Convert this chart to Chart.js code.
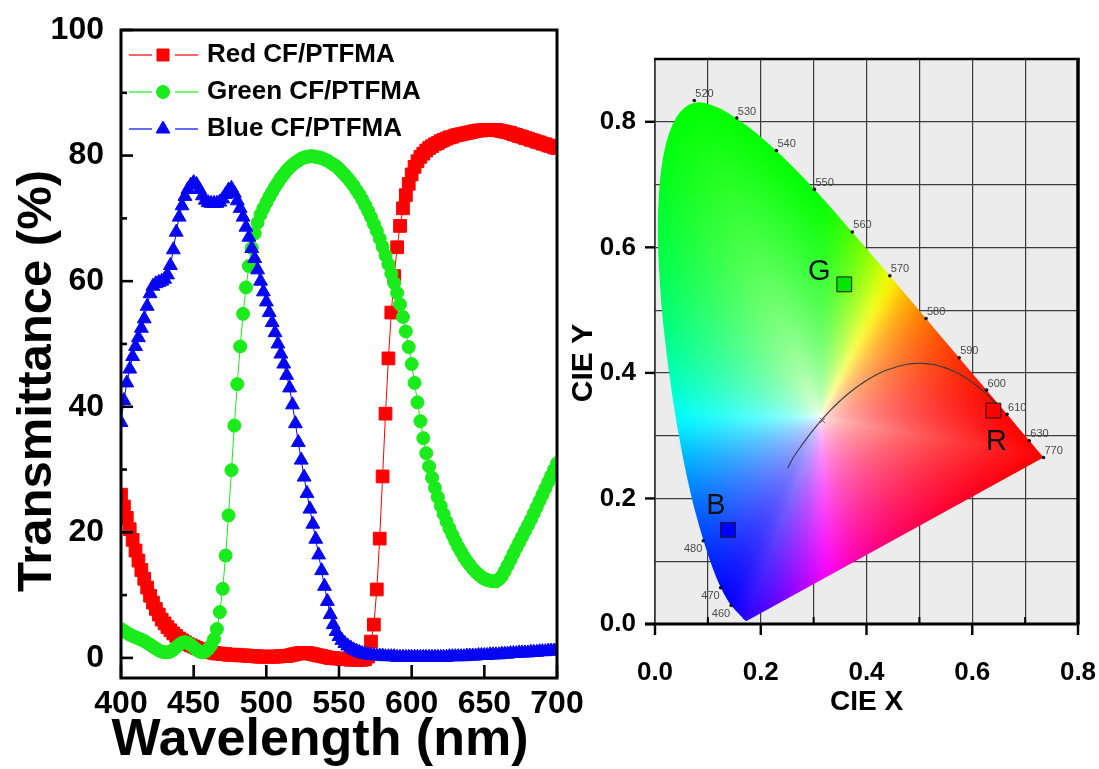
<!DOCTYPE html>
<html>
<head>
<meta charset="utf-8">
<title>Colour filter transmittance and CIE coordinates</title>
<script src="https://cdn.jsdelivr.net/npm/chart.js@4.4.1/dist/chart.umd.min.js"></script>
<style>
  html, body { margin: 0; padding: 0; background: #fff; }
  #wrap { position: relative; width: 1099px; height: 769px; overflow: hidden; }
  #wrap canvas { position: absolute; left: 0; top: 0; }
</style>
</head>
<body>
<div id="wrap">
  <canvas id="spectra" width="1099" height="769"></canvas>
  <canvas id="cie" width="1099" height="769"></canvas>
</div>
<script>
// ---------- Transmittance spectra (%), sampled every 2 nm ----------
const wavelengthNm = [
  400, 402, 404, 406, 408, 410, 412, 414, 416, 418,
  420, 422, 424, 426, 428, 430, 432, 434, 436, 438,
  440, 442, 444, 446, 448, 450, 452, 454, 456, 458,
  460, 462, 464, 466, 468, 470, 472, 474, 476, 478,
  480, 482, 484, 486, 488, 490, 492, 494, 496, 498,
  500, 502, 504, 506, 508, 510, 512, 514, 516, 518,
  520, 522, 524, 526, 528, 530, 532, 534, 536, 538,
  540, 542, 544, 546, 548, 550, 552, 554, 556, 558,
  560, 562, 564, 566, 568, 570, 572, 574, 576, 578,
  580, 582, 584, 586, 588, 590, 592, 594, 596, 598,
  600, 602, 604, 606, 608, 610, 612, 614, 616, 618,
  620, 622, 624, 626, 628, 630, 632, 634, 636, 638,
  640, 642, 644, 646, 648, 650, 652, 654, 656, 658,
  660, 662, 664, 666, 668, 670, 672, 674, 676, 678,
  680, 682, 684, 686, 688, 690, 692, 694, 696, 698,
  700
];

const redTransmittance = [
  26.0, 24.1, 22.3, 20.5, 18.8, 17.1, 15.5, 14.0, 12.6, 11.2,
  9.9, 8.8, 7.8, 6.9, 6.1, 5.5, 4.9, 4.4, 3.9, 3.5,
  3.1, 2.8, 2.5, 2.2, 2.0, 1.8, 1.6, 1.4, 1.2, 1.1,
  1.0, 0.9, 0.8, 0.7, 0.7, 0.6, 0.6, 0.5, 0.5, 0.5,
  0.5, 0.4, 0.4, 0.4, 0.3, 0.3, 0.3, 0.2, 0.2, 0.2,
  0.2, 0.2, 0.2, 0.2, 0.2, 0.3, 0.3, 0.3, 0.4, 0.5,
  0.6, 0.7, 0.8, 0.8, 0.8, 0.7, 0.6, 0.5, 0.4, 0.3,
  0.2, 0.1, 0.0, 0.0, -0.1, -0.1, -0.2, -0.2, -0.2, -0.3,
  -0.3, -0.3, -0.3, -0.3, -0.2, 0.2, 2.6, 5.3, 10.9, 19.0,
  28.9, 38.9, 47.7, 55.0, 60.8, 65.4, 68.8, 71.6, 73.7, 75.5,
  77.0, 78.2, 79.1, 79.8, 80.3, 80.8, 81.2, 81.5, 81.8, 82.0,
  82.3, 82.5, 82.7, 82.9, 83.0, 83.2, 83.3, 83.4, 83.5, 83.6,
  83.7, 83.8, 83.9, 84.0, 84.0, 84.1, 84.1, 84.1, 84.1, 84.1,
  84.0, 83.9, 83.8, 83.7, 83.6, 83.4, 83.3, 83.1, 83.0, 82.8,
  82.7, 82.5, 82.4, 82.2, 82.1, 81.9, 81.8, 81.6, 81.5, 81.3,
  81.2
];

const greenTransmittance = [
  4.6, 4.3, 4.0, 3.7, 3.5, 3.3, 3.1, 2.9, 2.7, 2.4,
  2.1, 1.8, 1.5, 1.2, 1.0, 0.9, 0.9, 1.0, 1.3, 1.7,
  2.1, 2.4, 2.5, 2.4, 2.1, 1.7, 1.3, 1.0, 0.9, 1.0,
  1.4, 2.0, 3.0, 4.6, 7.3, 11.0, 16.3, 22.7, 29.9, 37.0,
  43.6, 49.6, 54.8, 59.0, 62.4, 65.3, 67.6, 69.3, 70.6, 71.6,
  72.5, 73.4, 74.2, 75.0, 75.7, 76.4, 77.0, 77.6, 78.1, 78.5,
  78.9, 79.2, 79.5, 79.7, 79.8, 79.9, 79.9, 79.8, 79.7, 79.6,
  79.4, 79.2, 78.9, 78.6, 78.3, 77.9, 77.4, 76.9, 76.4, 75.8,
  75.2, 74.5, 73.8, 73.0, 72.1, 71.2, 70.2, 69.1, 68.0, 66.8,
  65.5, 64.1, 62.7, 61.2, 59.7, 58.1, 56.3, 54.3, 52.0, 49.5,
  46.8, 43.8, 40.7, 37.7, 35.0, 32.6, 30.5, 28.7, 27.1, 25.6,
  24.2, 22.9, 21.7, 20.6, 19.6, 18.6, 17.7, 16.9, 16.1, 15.4,
  14.8, 14.2, 13.7, 13.3, 12.9, 12.6, 12.4, 12.3, 12.2, 12.2,
  12.5, 13.0, 13.8, 14.7, 15.6, 16.6, 17.5, 18.4, 19.3, 20.2,
  21.1, 22.0, 23.0, 24.0, 25.0, 26.0, 27.0, 28.0, 29.0, 30.0,
  31.0
];

const blueTransmittance = [
  37.5, 41.0, 43.8, 46.0, 48.0, 49.6, 51.0, 52.5, 54.0, 56.0,
  58.0, 59.2, 59.6, 59.8, 60.0, 60.3, 61.0, 62.5, 65.0, 67.8,
  70.2, 72.0, 73.5, 74.6, 75.3, 75.7, 75.4, 74.6, 73.6, 72.9,
  72.5, 72.4, 72.4, 72.4, 72.6, 73.1, 73.8, 74.5, 74.8, 74.0,
  72.8, 71.6, 70.2, 68.6, 67.0, 65.2, 63.6, 61.8, 60.0, 58.3,
  56.7, 55.0, 53.4, 51.8, 50.0, 48.4, 46.8, 45.0, 43.0, 40.3,
  37.3, 34.3, 31.5, 28.8, 26.2, 23.7, 21.3, 18.9, 16.4, 13.9,
  11.4, 9.0, 6.9, 5.3, 4.2, 3.4, 2.8, 2.3, 1.9, 1.6,
  1.3, 1.1, 0.9, 0.7, 0.6, 0.5, 0.4, 0.4, 0.3, 0.3,
  0.3, 0.2, 0.2, 0.2, 0.2, 0.1, 0.1, 0.1, 0.1, 0.1,
  0.1, 0.1, 0.1, 0.1, 0.1, 0.1, 0.1, 0.1, 0.1, 0.1,
  0.1, 0.1, 0.1, 0.2, 0.2, 0.2, 0.2, 0.2, 0.2, 0.3,
  0.3, 0.3, 0.3, 0.4, 0.4, 0.4, 0.4, 0.5, 0.5, 0.5,
  0.5, 0.6, 0.6, 0.6, 0.7, 0.7, 0.7, 0.8, 0.8, 0.8,
  0.8, 0.9, 0.9, 0.9, 1.0, 1.0, 1.0, 1.1, 1.1, 1.1,
  1.2
];

const seriesLabels = ['Red CF/PTFMA', 'Green CF/PTFMA', 'Blue CF/PTFMA'];
const wavelengthTicks = [400, 450, 500, 550, 600, 650, 700];
const transmittanceTicks = [0, 10, 20, 30, 40, 50, 60, 70, 80, 90, 100];

// ---------- CIE 1931 chromaticity ----------
// spectral locus, 380-700 nm every 5 nm
const locusX = [
  0.1741, 0.1740, 0.1738, 0.1736, 0.1733, 0.1730, 0.1726, 0.1721, 0.1714, 0.1703,
  0.1689, 0.1669, 0.1644, 0.1611, 0.1566, 0.1510, 0.1440, 0.1355, 0.1241, 0.1096,
  0.0913, 0.0687, 0.0454, 0.0235, 0.0082, 0.0039, 0.0139, 0.0389, 0.0743, 0.1142,
  0.1547, 0.1929, 0.2296, 0.2658, 0.3016, 0.3373, 0.3731, 0.4087, 0.4441, 0.4788,
  0.5125, 0.5448, 0.5752, 0.6029, 0.6270, 0.6482, 0.6658, 0.6801, 0.6915, 0.7006,
  0.7079, 0.7140, 0.7190, 0.7230, 0.7260, 0.7283, 0.7300, 0.7311, 0.7320, 0.7327,
  0.7334, 0.7340, 0.7344, 0.7346, 0.7347
];
const locusY = [
  0.0050, 0.0050, 0.0049, 0.0049, 0.0048, 0.0048, 0.0048, 0.0048, 0.0051, 0.0058,
  0.0069, 0.0086, 0.0109, 0.0138, 0.0177, 0.0227, 0.0297, 0.0399, 0.0578, 0.0868,
  0.1327, 0.2007, 0.2950, 0.4127, 0.5384, 0.6548, 0.7502, 0.8120, 0.8338, 0.8262,
  0.8059, 0.7816, 0.7543, 0.7243, 0.6923, 0.6589, 0.6245, 0.5896, 0.5547, 0.5202,
  0.4866, 0.4544, 0.4242, 0.3965, 0.3725, 0.3514, 0.3340, 0.3197, 0.3083, 0.2993,
  0.2920, 0.2859, 0.2809, 0.2770, 0.2740, 0.2717, 0.2700, 0.2689, 0.2680, 0.2673,
  0.2666, 0.2660, 0.2656, 0.2654, 0.2653
];

// labelled wavelengths on the locus
const markNm = [460, 470, 480, 520, 530, 540, 550, 560, 570, 580, 590, 600, 610, 630, 770];
const markX = [0.1440, 0.1241, 0.0913, 0.0743, 0.1547, 0.2296, 0.3016, 0.3731, 0.4441, 0.5125, 0.5752, 0.6270, 0.6658, 0.7079, 0.7347];
const markY = [0.0297, 0.0578, 0.1327, 0.8338, 0.8059, 0.7543, 0.6923, 0.6245, 0.5547, 0.4866, 0.4242, 0.3725, 0.3340, 0.2920, 0.2653];

// blackbody (Planckian) locus
const planckX = [0.2510, 0.2565, 0.2637, 0.2719, 0.2807, 0.2952, 0.3135, 0.3325, 0.3451, 0.3608, 0.3805,
                 0.4053, 0.4369, 0.4685, 0.4862, 0.5056, 0.5267, 0.5492, 0.5732, 0.5985, 0.6251, 0.6528];
const planckY = [0.2480, 0.2577, 0.2680, 0.2779, 0.2884, 0.3048, 0.3237, 0.3411, 0.3516, 0.3636, 0.3768,
                 0.3907, 0.4041, 0.4123, 0.4147, 0.4152, 0.4133, 0.4080, 0.3993, 0.3858, 0.3674, 0.3444];
const whitePointX = [0.317];
const whitePointY = [0.324];

// colour coordinates of the three filters
const filterNames = ['G', 'R', 'B'];
const filterX = [0.358, 0.640, 0.138];
const filterY = [0.541, 0.340, 0.150];

const cieXTicks = [0, 0.1, 0.2, 0.3, 0.4, 0.5, 0.6, 0.7, 0.8];
const cieYTicks = [0, 0.1, 0.2, 0.3, 0.4, 0.5, 0.6, 0.7, 0.8, 0.9];

// ---------- shared helpers ----------
const FONT = '"Liberation Sans", Arial, Helvetica, sans-serif';
Chart.defaults.font.family = FONT;
Chart.defaults.color = '#000';
Chart.defaults.animation = false;

const toPoints = (xs, ys) => xs.map((v, i) => ({ x: v, y: ys[i] }));

function strokeLine(ctx, x1, y1, x2, y2, width, color) {
  ctx.save();
  ctx.beginPath();
  ctx.lineWidth = width;
  ctx.strokeStyle = color || '#000';
  ctx.moveTo(x1, y1);
  ctx.lineTo(x2, y2);
  ctx.stroke();
  ctx.restore();
}

function drawRotatedTitle(ctx, text, cx, cy, font) {
  ctx.save();
  ctx.translate(cx, cy);
  ctx.rotate(-Math.PI / 2);
  ctx.font = font;
  ctx.fillStyle = '#000';
  ctx.textAlign = 'center';
  ctx.textBaseline = 'middle';
  ctx.fillText(text, 0, 0);
  ctx.restore();
}

// invisible tick marks are used only to space the labels away from the axis
const spacer = length => ({ display: true, drawOnChartArea: false, drawTicks: true, tickLength: length, tickColor: 'rgba(0,0,0,0)', color: 'rgba(0,0,0,0)' });

// ---------- left panel: spectra ----------
const spectraStyle = [
  { color: '#ff0000', marker: 'rect', radius: 9, order: 3 },
  { color: '#1aeb1a', marker: 'circle', radius: 6.5, order: 2 },
  { color: '#0606f2', marker: 'triangle', radius: 8, order: 1 }
];
const spectraValues = [redTransmittance, greenTransmittance, blueTransmittance];

const spectraDecor = {
  id: 'spectraDecor',
  afterDraw(chart) {
    const { ctx, chartArea: a, scales: { x, y } } = chart;
    // frame
    ctx.save();
    ctx.lineWidth = 3;
    ctx.strokeStyle = '#000';
    ctx.strokeRect(a.left, a.top, a.right - a.left, a.bottom - a.top);
    ctx.restore();
    // inward tick marks
    y.ticks.forEach(t => {
      const py = y.getPixelForValue(t.value);
      const len = t.value % 20 === 0 ? 12 : 6;
      strokeLine(ctx, a.left, py, a.left + len, py, 2.6);
    });
    x.ticks.forEach(t => {
      const px = x.getPixelForValue(t.value);
      strokeLine(ctx, px, a.bottom, px, a.bottom - 13, 2.6);
    });
    // legend
    chart.data.datasets.forEach((ds, i) => {
      const cy = 55 + i * 37;
      const cx = 163;
      strokeLine(ctx, cx - 34, cy, cx - 11, cy, 1.2, ds.borderColor);
      strokeLine(ctx, cx + 12, cy, cx + 35, cy, 1.2, ds.borderColor);
      ctx.save();
      ctx.fillStyle = ds.pointBackgroundColor;
      ctx.strokeStyle = ds.pointBorderColor;
      ctx.lineWidth = 1;
      Chart.helpers.drawPoint(ctx, { pointStyle: ds.pointStyle, radius: Math.min(ds.pointRadius, 8.5), rotation: 0, borderWidth: 1 }, cx, cy);
      ctx.font = 'bold 26px ' + FONT;
      ctx.fillStyle = '#000';
      ctx.textAlign = 'left';
      ctx.textBaseline = 'middle';
      ctx.fillText(ds.label, 207, cy);
      ctx.restore();
    });
    // axis titles
    drawRotatedTitle(ctx, 'Transmittance (%)', 37, 381, 'bold 49px ' + FONT);
    ctx.save();
    ctx.font = 'bold 52px ' + FONT;
    ctx.fillStyle = '#000';
    ctx.textAlign = 'center';
    ctx.textBaseline = 'middle';
    ctx.fillText('Wavelength (nm)', 320, 741);
    ctx.restore();
  }
};

new Chart(document.getElementById('spectra'), {
  type: 'scatter',
  data: {
    datasets: seriesLabels.map((label, i) => ({
      label,
      data: toPoints(wavelengthNm, spectraValues[i]),
      showLine: true,
      borderColor: spectraStyle[i].color,
      backgroundColor: spectraStyle[i].color,
      borderWidth: 1,
      pointStyle: spectraStyle[i].marker,
      pointRadius: spectraStyle[i].radius,
      pointBackgroundColor: spectraStyle[i].color,
      pointBorderColor: spectraStyle[i].color,
      pointBorderWidth: 1,
      order: spectraStyle[i].order,
      clip: 0
    }))
  },
  options: {
    responsive: false,
    events: [],
    layout: { autoPadding: false, padding: { left: 0, top: 30, right: 542, bottom: 0 } },
    plugins: { legend: { display: false }, tooltip: { enabled: false } },
    scales: {
      x: {
        type: 'linear', min: 400, max: 700,
        afterBuildTicks: s => { s.ticks = wavelengthTicks.map(v => ({ value: v })); },
        afterFit: s => { s.height = 91; },
        grid: spacer(7),
        border: { display: false },
        ticks: { autoSkip: false, maxRotation: 0, padding: 0, color: '#000', font: { size: 32, weight: 'bold' } }
      },
      y: {
        type: 'linear', min: -3.2, max: 100,
        afterBuildTicks: s => { s.ticks = transmittanceTicks.map(v => ({ value: v })); },
        afterFit: s => { s.width = 121; },
        grid: spacer(17),
        border: { display: false },
        ticks: {
          autoSkip: false, padding: 0, color: '#000', font: { size: 32, weight: 'bold' },
          callback: v => (v % 20 === 0 ? String(v) : '')
        }
      }
    }
  },
  plugins: [spectraDecor]
});

// ---------- right panel: chromaticity diagram ----------
// saturated display colour of a chromaticity: sRGB primaries, negatives clipped
function saturatedRgb(cx, cy) {
  const X = cx / cy, Y = 1, Z = (1 - cx - cy) / cy;
  let r = Math.max(3.2406 * X - 1.5372 * Y - 0.4986 * Z, 0);
  let g = Math.max(-0.9689 * X + 1.8758 * Y + 0.0415 * Z, 0);
  let b = Math.max(0.0557 * X - 0.2040 * Y + 1.0570 * Z, 0);
  const m = Math.max(r, g, b) || 1;
  return [r / m, g / m, b / m];
}

// shade from the white point out to the boundary colour along each direction
function buildShading() {
  const wx = 0.3127, wy = 0.3290, bins = 2048, half = 40;
  const pts = locusX.map((v, i) => [v, locusY[i]]);
  const dist = new Float32Array(bins);
  const raw = [];
  for (let k = 0; k < bins; k++) {
    const th = (k / bins) * Math.PI * 2, dx = Math.cos(th), dy = Math.sin(th);
    let best = Infinity;
    for (let i = 0; i < pts.length; i++) {
      const p = pts[i], q = pts[(i + 1) % pts.length];
      const ex = q[0] - p[0], ey = q[1] - p[1];
      const den = dx * ey - dy * ex;
      if (Math.abs(den) < 1e-12) continue;
      const px = p[0] - wx, py = p[1] - wy;
      const s = (px * ey - py * ex) / den;
      const u = (px * dy - py * dx) / den;
      if (s > 0 && u >= -1e-6 && u <= 1 + 1e-6 && s < best) best = s;
    }
    dist[k] = best;
    raw.push(saturatedRgb(wx + dx * best * 0.995, wy + dy * best * 0.995));
  }
  // soften abrupt hue changes between neighbouring directions (triangular window)
  const edge = raw.map((_, k) => {
    const acc = [0, 0, 0];
    let wsum = 0;
    for (let d = -half; d <= half; d++) {
      const wgt = half + 1 - Math.abs(d);
      const c = raw[(k + d + bins) % bins];
      acc[0] += wgt * c[0]; acc[1] += wgt * c[1]; acc[2] += wgt * c[2];
      wsum += wgt;
    }
    return [acc[0] / wsum, acc[1] / wsum, acc[2] / wsum];
  });
  return (cx, cy) => {
    const dx = cx - wx, dy = cy - wy;
    let th = Math.atan2(dy, dx);
    if (th < 0) th += Math.PI * 2;
    const k = Math.min(bins - 1, Math.floor((th / (Math.PI * 2)) * bins));
    const t = Math.min(1, Math.sqrt(dx * dx + dy * dy) / dist[k]);
    const f = Math.pow(t, 0.55);
    const e = edge[k];
    return [255 * (1 - f + f * e[0]), 255 * (1 - f + f * e[1]), 255 * (1 - f + f * e[2])];
  };
}

function locusPath(ctx, x, y) {
  const pts = locusX.map((v, i) => [x.getPixelForValue(v), y.getPixelForValue(locusY[i])]);
  ctx.beginPath();
  ctx.moveTo(pts[0][0], pts[0][1]);
  for (let i = 1; i < pts.length - 1; i++) {
    const mx = (pts[i][0] + pts[i + 1][0]) / 2, my = (pts[i][1] + pts[i + 1][1]) / 2;
    ctx.quadraticCurveTo(pts[i][0], pts[i][1], mx, my);
  }
  ctx.lineTo(pts[pts.length - 1][0], pts[pts.length - 1][1]);
  ctx.closePath();
}

const cieDecor = {
  id: 'cieDecor',
  beforeDraw(chart) {
    const { ctx, chartArea: a } = chart;
    ctx.save();
    ctx.fillStyle = '#ececec';
    ctx.fillRect(a.left, a.top, a.right - a.left, a.bottom - a.top);
    ctx.restore();
  },
  beforeDatasetsDraw(chart) {
    const { ctx, chartArea: a, scales: { x, y } } = chart;
    const shade = buildShading();
    const left = Math.floor(a.left), top = Math.floor(a.top);
    const w = Math.ceil(a.right) - left, h = Math.ceil(a.bottom) - top;
    const off = document.createElement('canvas');
    off.width = w; off.height = h;
    const octx = off.getContext('2d');
    const img = octx.createImageData(w, h);
    for (let j = 0; j < h; j++) {
      const cy = y.getValueForPixel(top + j + 0.5);
      for (let i = 0; i < w; i++) {
        const cx = x.getValueForPixel(left + i + 0.5);
        const rgb = shade(cx, cy);
        const k = (j * w + i) * 4;
        img.data[k] = rgb[0]; img.data[k + 1] = rgb[1]; img.data[k + 2] = rgb[2]; img.data[k + 3] = 255;
      }
    }
    octx.putImageData(img, 0, 0);
    ctx.save();
    locusPath(ctx, x, y);
    ctx.clip();
    ctx.drawImage(off, left, top);
    ctx.restore();
  },
  afterDatasetsDraw(chart) {
    const { ctx, scales: { x, y } } = chart;
    // wavelength labels on the locus
    ctx.save();
    ctx.font = '11px "Liberation Sans Narrow", ' + FONT;
    ctx.fillStyle = '#4a4a4a';
    markNm.forEach((nm, i) => {
      const px = x.getPixelForValue(markX[i]), py = y.getPixelForValue(markY[i]);
      if (nm < 500) {
        ctx.textAlign = 'right'; ctx.textBaseline = 'top';
        ctx.fillText(String(nm), px - 1, py + 3);
      } else {
        ctx.textAlign = 'left'; ctx.textBaseline = 'bottom';
        ctx.fillText(String(nm), px + 1, py - 1);
      }
    });
    ctx.restore();
    // filter letters
    const letterShift = { G: [-25, -12], R: [3, 31], B: [-12, -24] };
    ctx.save();
    ctx.font = '29px ' + FONT;
    ctx.fillStyle = '#111';
    ctx.textAlign = 'center';
    ctx.textBaseline = 'middle';
    filterNames.forEach((n, i) => {
      const px = x.getPixelForValue(filterX[i]), py = y.getPixelForValue(filterY[i]);
      ctx.fillText(n, px + letterShift[n][0], py + letterShift[n][1]);
    });
    ctx.restore();
  },
  afterDraw(chart) {
    const { ctx, chartArea: a, scales: { x, y } } = chart;
    strokeLine(ctx, a.left, a.top, a.left, a.bottom, 1.5, '#333');
    strokeLine(ctx, a.left - 1, a.top, a.right + 1.5, a.top, 2.5);
    strokeLine(ctx, a.right, a.top - 1, a.right, a.bottom, 3.5);
    strokeLine(ctx, a.left - 10, a.bottom, a.right + 1.5, a.bottom, 3);
    x.ticks.forEach(t => {
      const px = x.getPixelForValue(t.value);
      const major = Math.round(t.value * 10) % 2 === 0;
      if (major) strokeLine(ctx, px, a.bottom, px, a.bottom + 11, 2.4);
      else strokeLine(ctx, px, a.bottom, px, a.bottom - 7, 2);
    });
    y.ticks.forEach(t => {
      const k = Math.round(t.value * 10);
      if (k % 2 === 0 && k <= 8) {
        const py = y.getPixelForValue(t.value);
        strokeLine(ctx, a.left - 10, py, a.left, py, 2.4);
      }
    });
    drawRotatedTitle(ctx, 'CIE Y', 584, 363, 'bold 30px ' + FONT);
  }
};

const tickLabel = v => {
  const k = Math.round(v * 10);
  return k % 2 === 0 && k <= 8 ? v.toFixed(1) : '';
};

const cieGrid = { color: '#3c3c3c', lineWidth: 1.2, drawTicks: false };

new Chart(document.getElementById('cie'), {
  type: 'scatter',
  data: {
    datasets: [
      {
        label: 'Planckian locus',
        data: toPoints(planckX, planckY),
        showLine: true, tension: 0.35,
        borderColor: '#3a3a3a', borderWidth: 1.1,
        pointRadius: 0, order: 3
      },
      {
        label: 'White point',
        data: toPoints(whitePointX, whitePointY),
        pointStyle: 'crossRot', pointRadius: 3.5,
        borderColor: '#666', borderWidth: 1, order: 2
      },
      {
        label: 'Spectral wavelengths',
        data: toPoints(markX, markY),
        pointRadius: 1.8, backgroundColor: '#111', borderColor: '#111', borderWidth: 0, order: 1
      },
      {
        label: 'Colour filters',
        data: toPoints(filterX, filterY),
        pointStyle: 'rect', pointRadius: 10.5,
        backgroundColor: ['#00e600', '#ff0000', '#0000ff'],
        borderColor: '#1a1a1a', borderWidth: 1, order: 0
      }
    ]
  },
  options: {
    responsive: false,
    events: [],
    layout: { autoPadding: false, padding: { left: 560, top: 59, right: 21, bottom: 0 } },
    plugins: { legend: { display: false }, tooltip: { enabled: false } },
    scales: {
      x: {
        type: 'linear', min: 0, max: 0.8,
        afterBuildTicks: s => { s.ticks = cieXTicks.map(v => ({ value: v })); },
        afterFit: s => { s.height = 145; },
        grid: Object.assign({}, cieGrid, { drawTicks: true, tickLength: 33, tickColor: 'rgba(0,0,0,0)' }),
        border: { display: false },
        ticks: { autoSkip: false, maxRotation: 0, padding: 0, color: '#000', font: { size: 26, weight: 'bold' }, callback: tickLabel },
        title: { display: true, text: 'CIE X', color: '#000', font: { size: 28, weight: 'bold' }, padding: { top: 0, bottom: 50 } }
      },
      y: {
        type: 'linear', min: 0, max: 0.9,
        afterBuildTicks: s => { s.ticks = cieYTicks.map(v => ({ value: v })); },
        afterFit: s => { s.width = 95; },
        grid: Object.assign({}, cieGrid, { drawTicks: true, tickLength: 19, tickColor: 'rgba(0,0,0,0)' }),
        border: { display: false },
        ticks: { autoSkip: false, padding: 0, color: '#000', font: { size: 26, weight: 'bold' }, callback: tickLabel }
      }
    }
  },
  plugins: [cieDecor]
});
</script>
</body>
</html>
